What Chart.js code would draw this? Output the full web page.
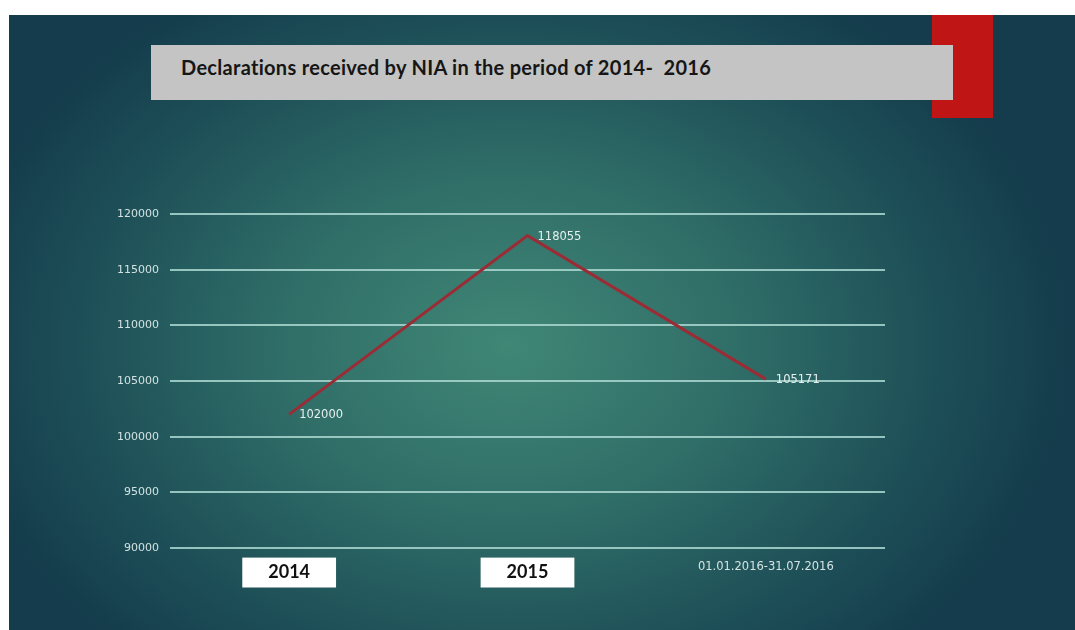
<!DOCTYPE html>
<html>
<head>
<meta charset="utf-8">
<script src="https://cdn.jsdelivr.net/npm/chart.js@4/dist/chart.umd.min.js"></script>
<style>
  html, body { margin: 0; padding: 0; width: 1075px; height: 630px; overflow: hidden; background: #ffffff; }
  #slide {
    position: absolute; left: 9px; top: 15px; width: 1066px; height: 615px;
    background:
      radial-gradient(ellipse 560px 420px at 500px 330px, rgba(64,135,118,1) 0%, rgba(48,110,104,1) 40%, rgba(30,80,88,1) 75%, rgba(20,60,76,1) 100%);
    background-color: #143c4c;
  }
  #redbar { position: absolute; left: 932px; top: 15px; width: 61px; height: 103px; background: #bf1515; }
  #titlebox {
    position: absolute; left: 151px; top: 45px; width: 802px; height: 55px; background: #c4c4c4;
  }
  #title {
    position: absolute; left: 181px; top: 55px;
    font-family: Lato, "Open Sans", sans-serif; font-weight: bold; font-size: 20px; color: #161616;
    white-space: pre; letter-spacing: 0.3px;
  }
  #wrap { position: absolute; left: 0; top: 0; width: 1075px; height: 630px; }
</style>
</head>
<body>
<div id="slide"></div>
<div id="redbar"></div>
<div id="titlebox"></div>
<div id="title">Declarations received by NIA in the period of 2014-  2016</div>
<div id="wrap"><canvas id="c" width="1075" height="630"></canvas></div>
<script>
const categories = ["2014", "2015", "01.01.2016-31.07.2016"];
const declarations = [102000, 118055, 105171];
const yTicks = [90000, 95000, 100000, 105000, 110000, 115000, 120000];

const valueLabels = {
  id: 'valueLabels',
  afterDatasetsDraw(chart) {
    const ctx = chart.ctx;
    const meta = chart.getDatasetMeta(0);
    ctx.save();
    ctx.font = '11.5px "DejaVu Sans", sans-serif';
    ctx.fillStyle = '#e6efef';
    ctx.textAlign = 'left';
    ctx.textBaseline = 'middle';
    meta.data.forEach((pt, i) => {
      ctx.fillText(String(declarations[i]), pt.x + 10, pt.y + 1);
    });
    ctx.restore();
  }
};

new Chart(document.getElementById('c'), {
  type: 'line',
  data: {
    labels: categories,
    datasets: [{
      data: declarations,
      borderColor: '#9a2c35',
      borderWidth: 3,
      pointRadius: 0,
      tension: 0,
      fill: false
    }]
  },
  options: {
    responsive: false,
    animation: false,
    plugins: { legend: { display: false }, tooltip: { enabled: false } },
    layout: { padding: { left: 100, right: 190, top: 214, bottom: 32 } },
    scales: {
      x: {
        offset: true,
        grid: { display: false, drawTicks: false },
        border: { display: false },
        afterFit(scale) { scale.height = 50; },
        ticks: {
          padding: 16,
          color: (c) => c.index === 2 ? '#d6e3e3' : '#111111',
          font: (c) => c.index === 2
            ? { family: '"DejaVu Sans", sans-serif', size: 11.5, weight: 'normal', lineHeight: 0.45 }
            : { family: 'Lato, "Open Sans", sans-serif', size: 18, weight: 'bold', lineHeight: 0.95 },
          showLabelBackdrop: (c) => c.index !== 2,
          backdropColor: '#ffffff',
          backdropPadding: { left: 26, right: 26, top: 6.4, bottom: 6.4 },
          maxRotation: 0,
          autoSkip: false
        }
      },
      y: {
        min: 90000,
        max: 120000,
        afterFit(scale) { scale.width = 70; },
        afterBuildTicks(scale) { scale.ticks = yTicks.map(v => ({ value: v })); },
        grid: { color: 'rgba(170,215,208,0.85)', lineWidth: 2, drawTicks: false },
        border: { display: false },
        ticks: {
          padding: 11,
          color: '#d2e2e2',
          font: { family: '"DejaVu Sans", sans-serif', size: 11 },
          callback: (v) => String(v)
        }
      }
    }
  },
  plugins: [valueLabels]
});
</script>
</body>
</html>
